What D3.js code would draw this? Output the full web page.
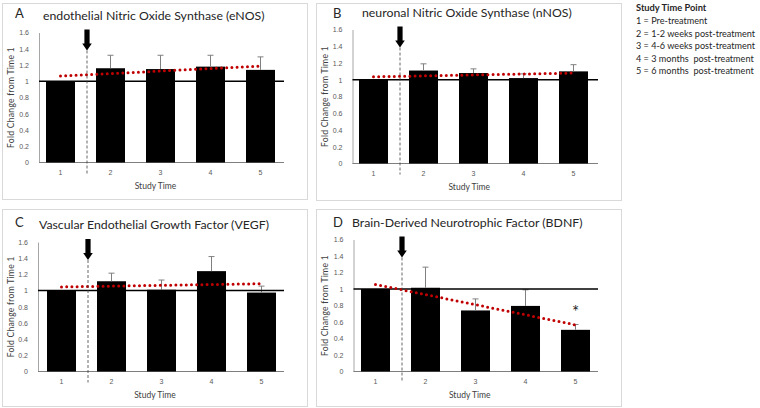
<!DOCTYPE html>
<html lang="en">
<head>
<meta charset="UTF-8">
<title>Fold change from Time 1</title>
<script src="https://d3js.org/d3.v7.min.js"></script>
<style>
  body { margin: 0; background: #fff; }
  svg { font-family: Lato, "Open Sans", sans-serif; }
  .tick-label { font-size: 7px; fill: #595959; }
  .axis-title { font-size: 8.5px; fill: #404040; }
  .panel-title { font-size: 12.3px; fill: #262626; }
  .panel-letter { font-size: 13px; fill: #262626; }
</style>
</head>
<body>
<svg width="760" height="408"></svg>
<script>
// study time points
const times = [1, 2, 3, 4, 5];
const yTicks = [0, 0.2, 0.4, 0.6, 0.8, 1, 1.2, 1.4, 1.6];

const letters = ["A", "B", "C", "D"];
const titles = [
  "endothelial Nitric Oxide Synthase (eNOS)",
  "neuronal Nitric Oxide Synthase (nNOS)",
  "Vascular Endothelial Growth Factor (VEGF)",
  "Brain-Derived Neurotrophic Factor (BDNF)"
];

// bar means and upper error bar ends
const eNOS = [1.0, 1.16, 1.15, 1.18, 1.14];
const eNOSErr = [1.0, 1.32, 1.32, 1.32, 1.30];
const nNOS = [1.0, 1.11, 1.08, 1.02, 1.10];
const nNOSErr = [1.0, 1.19, 1.13, 1.07, 1.18];
const VEGF = [1.0, 1.115, 1.01, 1.24, 0.975];
const VEGFErr = [1.0, 1.215, 1.13, 1.42, 1.055];
const BDNF = [1.0, 1.015, 0.74, 0.795, 0.505];
const BDNFErr = [1.0, 1.265, 0.88, 0.99, 0.57];

// linear trend line ends (time 1 and time 5)
const eNOSTrend = [1.065, 1.186];
const nNOSTrend = [1.035, 1.08];
const VEGFTrend = [1.045, 1.085];
const BDNFTrend = [1.055, 0.565];

// significant time points (BDNF only)
const BDNFSig = [5];

const legendTitle = "Study Time Point";
const legendLines = [
  "1 = Pre-treatment",
  "2 = 1-2 weeks post-treatment",
  "3 = 4-6 weeks post-treatment",
  "4 = 3 months  post-treatment",
  "5 = 6 months  post-treatment"
];

const interventionAt = 1.53;

const panels = [
  { values: eNOS, err: eNOSErr, trend: eNOSTrend, sig: [],
    box: [2, 3, 305, 196], left: 39, right: 284, top: 32.5, bottom: 162.5, shift: -3.5 },
  { values: nNOS, err: nNOSErr, trend: nNOSTrend, sig: [],
    box: [316, 3, 305, 197], left: 352.5, right: 598, top: 29.5, bottom: 163.5, shift: -4 },
  { values: VEGF, err: VEGFErr, trend: VEGFTrend, sig: [],
    box: [2, 209, 305, 197], left: 38, right: 284, top: 242, bottom: 371.5, shift: -1.5 },
  { values: BDNF, err: BDNFErr, trend: BDNFTrend, sig: BDNFSig,
    box: [316, 209, 305, 197], left: 353.5, right: 598, top: 239.5, bottom: 371.5, shift: -3 }
];

const svg = d3.select("svg");

panels.forEach((p, i) => {
  const g = svg.append("g");

  // panel frame
  g.append("rect")
    .attr("x", p.box[0] + 0.5).attr("y", p.box[1] + 0.5)
    .attr("width", p.box[2]).attr("height", p.box[3])
    .attr("fill", "#fff").attr("stroke", "#d9d9d9");

  const x = d3.scaleBand()
    .domain(times)
    .range([p.left + p.shift, p.left + p.shift + 250])
    .paddingInner(0.42)
    .paddingOuter(0.21);
  const xc = d => x(d) + x.bandwidth() / 2;
  const xt = d3.scaleLinear().domain([1, 5]).range([xc(1), xc(5)]);

  const y = d3.scaleLinear().domain([0, 1.6]).range([p.bottom, p.top]);

  // y axis
  const yAxis = g.append("g")
    .attr("transform", `translate(${p.left},0)`)
    .call(d3.axisLeft(y).tickValues(yTicks).tickSize(0).tickPadding(10)
      .tickFormat(d => d3.format("")(+d.toFixed(1))));
  yAxis.select(".domain").attr("stroke", "#a6a6a6");
  yAxis.selectAll("text").attr("class", "tick-label").attr("font-family", null).attr("font-size", null);

  // x axis
  const xAxis = g.append("g")
    .attr("transform", `translate(0,${p.bottom})`)
    .call(d3.axisBottom(x).tickSize(0).tickPadding(8));
  xAxis.select(".domain").remove();
  xAxis.selectAll("text").attr("class", "tick-label").attr("font-family", null).attr("font-size", null);
  g.append("line")
    .attr("x1", p.left).attr("x2", p.right)
    .attr("y1", p.bottom).attr("y2", p.bottom)
    .attr("stroke", "#7f7f7f").attr("stroke-width", 1.2);

  // bars
  g.selectAll("rect.bar").data(p.values).join("rect")
    .attr("class", "bar")
    .attr("x", (d, j) => x(times[j]))
    .attr("width", x.bandwidth())
    .attr("y", d => y(d))
    .attr("height", d => y(0) - y(d))
    .attr("fill", "#000");

  // error bars (upper only)
  const eb = g.selectAll("g.err").data(p.err.map((e, j) => ({ t: times[j], v: p.values[j], e })))
    .join("g").attr("class", "err")
    .filter(d => d.e > d.v);
  eb.append("line")
    .attr("x1", d => xc(d.t)).attr("x2", d => xc(d.t))
    .attr("y1", d => y(d.v)).attr("y2", d => y(d.e))
    .attr("stroke", "#808080").attr("stroke-width", 1);
  eb.append("line")
    .attr("x1", d => xc(d.t) - 3).attr("x2", d => xc(d.t) + 3)
    .attr("y1", d => y(d.e)).attr("y2", d => y(d.e))
    .attr("stroke", "#808080").attr("stroke-width", 1);

  // reference line at 1
  g.append("line")
    .attr("x1", p.left).attr("x2", p.right)
    .attr("y1", y(1)).attr("y2", y(1))
    .attr("stroke", "#000").attr("stroke-width", 1.6);

  // linear trend line
  g.append("path")
    .datum([[1, p.trend[0]], [5, p.trend[1]]])
    .attr("d", d3.line().x(d => xt(d[0])).y(d => y(d[1])))
    .attr("fill", "none")
    .attr("stroke", "#c00000")
    .attr("stroke-width", 3)
    .attr("stroke-linecap", "round")
    .attr("stroke-dasharray", "0 5.2");

  // intervention: dashed line and arrow
  const xi = xt(interventionAt);
  const arrowTop = y(1.6) - 3;
  g.append("line")
    .attr("x1", xi).attr("x2", xi)
    .attr("y1", arrowTop + 21).attr("y2", p.bottom + 11)
    .attr("stroke", "#404040").attr("stroke-width", 0.8)
    .attr("stroke-dasharray", "3 2");
  g.append("path")
    .attr("d", `M${xi - 2.6},${arrowTop} H${xi + 2.6} V${arrowTop + 14} H${xi + 4.8} L${xi},${arrowTop + 21} L${xi - 4.8},${arrowTop + 14} H${xi - 2.6} Z`)
    .attr("fill", "#000");

  // significance marker
  p.sig.forEach(t => {
    g.append("text")
      .attr("x", xc(t)).attr("y", y(p.err[t - 1]) - 6)
      .attr("text-anchor", "middle")
      .attr("font-size", 17).attr("fill", "#262626")
      .text("*");
  });

  // axis titles
  g.append("text")
    .attr("class", "axis-title")
    .attr("x", (p.left + p.right) / 2 - 6)
    .attr("y", p.bottom + 26)
    .attr("text-anchor", "middle")
    .text("Study Time");
  g.append("text")
    .attr("class", "axis-title")
    .attr("transform", `translate(${p.box[0] + 11.5},${(p.top + p.bottom) / 2}) rotate(-90)`)
    .attr("text-anchor", "middle")
    .attr("font-size", 7.5)
    .attr("letter-spacing", 0.3)
    .text("Fold Change from Time 1");

  // panel letter and title
  g.append("text")
    .attr("class", "panel-letter")
    .attr("x", p.box[0] + (i % 2 ? 17 : 13)).attr("y", p.box[1] + (i < 2 ? 15 : 18))
    .text(letters[i]);
  g.append("text")
    .attr("class", "panel-title")
    .attr("x", p.box[0] + [41, 46, 37, 36][i]).attr("y", p.box[1] + (i < 2 ? [17, 14][i] : [20, 18][i - 2]))
    .text(titles[i]);
});

// legend
const legend = svg.append("g").attr("transform", "translate(636,0)");
legend.append("text")
  .attr("x", 0).attr("y", 11)
  .attr("font-size", 9.3).attr("font-weight", "bold").attr("fill", "#262626")
  .text(legendTitle);
legend.selectAll("text.item").data(legendLines).join("text")
  .attr("class", "item")
  .attr("x", 0).attr("y", (d, i) => 24 + i * 12.5)
  .attr("font-size", 9.1).attr("fill", "#262626")
  .attr("xml:space", "preserve")
  .style("white-space", "pre")
  .text(d => d);
</script>
</body>
</html>
